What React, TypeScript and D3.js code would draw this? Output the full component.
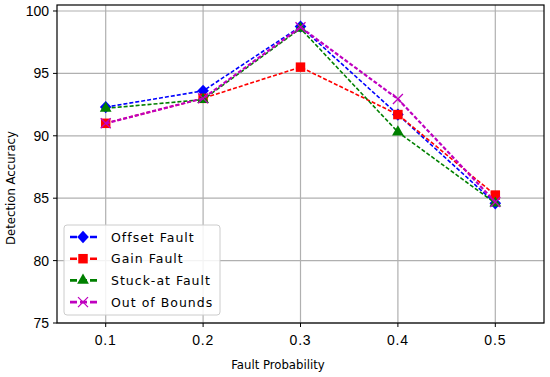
import { scaleLinear, line as d3line, symbol, symbolSquare, symbolTriangle } from 'd3';

const PROBS = [0.1, 0.2, 0.3, 0.4, 0.5];
const OFFSET = [92.3, 93.6, 98.75, 91.7, 84.6];
const GAIN = [91.0, 93.0, 95.5, 91.7, 85.25];
const STUCK = [92.2, 92.9, 98.6, 90.3, 84.6];
const BOUNDS = [91.0, 93.0, 98.7, 92.95, 84.7];
const X_TICKS = [0.1, 0.2, 0.3, 0.4, 0.5];
const Y_TICKS = [75, 80, 85, 90, 95, 100];

const SERIES = [
  { name: 'Offset Fault', values: OFFSET, color: '#0000ff', marker: 'diamond', width: 1.6 },
  { name: 'Gain Fault', values: GAIN, color: '#ff0000', marker: 'square', width: 1.6 },
  { name: 'Stuck-at Fault', values: STUCK, color: '#008000', marker: 'triangle', width: 1.6 },
  { name: 'Out of Bounds', values: BOUNDS, color: '#bf00bf', marker: 'x', width: 2.2 },
];

const L = 57, R = 544, T = 5, B = 323;

function Marker({ kind, x, y, color }: { kind: string; x: number; y: number; color: string }) {
  if (kind === 'x') {
    const s = 5;
    return (
      <path
        d={`M${x - s},${y - s}L${x + s},${y + s}M${x - s},${y + s}L${x + s},${y - s}`}
        stroke={color}
        strokeWidth={1.3}
      />
    );
  }
  if (kind === 'diamond') {
    const w = 5.8, h = 6.2;
    return <path d={`M${x},${y - h}L${x + w},${y}L${x},${y + h}L${x - w},${y}Z`} fill={color} />;
  }
  const type = kind === 'square' ? symbolSquare : symbolTriangle;
  const size = kind === 'square' ? 90 : 60;
  return <path d={symbol().type(type).size(size)() ?? ''} transform={`translate(${x},${y})`} fill={color} />;
}

export default function App() {
  const x = scaleLinear().domain([0.05, 0.55]).range([L, R]);
  const y = scaleLinear().domain([75, 100.48]).range([B, T]);
  const gen = d3line<number>()
    .x((_, i) => x(PROBS[i]))
    .y((d) => y(d));

  const legX = 64, legY = 225, rowH = 21.7;

  return (
    <svg width={550} height={377} style={{ position: 'absolute', left: 0, top: 0 }}>
      <rect width={550} height={377} fill="#fff" />
      {X_TICKS.map((t) => (
        <line key={'gx' + t} x1={x(t)} x2={x(t)} y1={T} y2={B} stroke="#b0b0b0" strokeWidth={1.2} />
      ))}
      {Y_TICKS.map((t) => (
        <line key={'gy' + t} x1={L} x2={R} y1={y(t)} y2={y(t)} stroke="#b0b0b0" strokeWidth={1.2} />
      ))}
      {SERIES.map((s) => (
        <g key={s.name}>
          <path
            d={gen(s.values) ?? ''}
            fill="none"
            stroke={s.color}
            strokeWidth={s.width}
            strokeDasharray="4,2"
          />
          {s.values.map((v, i) => (
            <Marker key={i} kind={s.marker} x={x(PROBS[i])} y={y(v)} color={s.color} />
          ))}
        </g>
      ))}
      <rect x={L} y={T} width={R - L} height={B - T} fill="none" stroke="#000" strokeWidth={1.2} />
      {Y_TICKS.map((t) => (
        <g key={'ty' + t}>
          <line x1={L - 4} x2={L} y1={y(t)} y2={y(t)} stroke="#000" />
          <text
            x={L - 8}
            y={y(t)}
            dy="0.36em"
            textAnchor="end"
            fontSize={14}
            fontFamily="Liberation Sans, Arial, sans-serif"
          >
            {t}
          </text>
        </g>
      ))}
      {X_TICKS.map((t) => (
        <g key={'tx' + t}>
          <line x1={x(t)} x2={x(t)} y1={B} y2={B + 4} stroke="#000" />
          <text
            x={x(t)}
            y={B + 22}
            textAnchor="middle"
            fontSize={14}
            letterSpacing={0.8}
            fontFamily="Liberation Sans, Arial, sans-serif"
          >
            {t.toFixed(1)}
          </text>
        </g>
      ))}
      <text
        x={278}
        y={369}
        textAnchor="middle"
        fontSize={13}
        fontFamily="DejaVu Sans Condensed, sans-serif"
      >
        Fault Probability
      </text>
      <text
        transform="translate(15,188) rotate(-90)"
        textAnchor="middle"
        fontSize={13}
        fontFamily="DejaVu Sans Condensed, sans-serif"
      >
        Detection Accuracy
      </text>
      <rect
        x={legX}
        y={legY}
        width={156}
        height={90}
        rx={3}
        fill="#fff"
        fillOpacity={0.85}
        stroke="#cccccc"
      />
      {SERIES.map((s, i) => {
        const cy = legY + 12 + i * rowH;
        return (
          <g key={'lg' + s.name}>
            <line
              x1={70}
              x2={99}
              y1={cy}
              y2={cy}
              stroke={s.color}
              strokeWidth={2.6}
              strokeDasharray="7,3"
            />
            <Marker kind={s.marker} x={83} y={cy} color={s.color} />
            <text
              x={111}
              y={cy}
              dy="0.36em"
              fontSize={12.5}
              letterSpacing={1}
              fontFamily="DejaVu Sans, sans-serif"
            >
              {s.name}
            </text>
          </g>
        );
      })}
    </svg>
  );
}
